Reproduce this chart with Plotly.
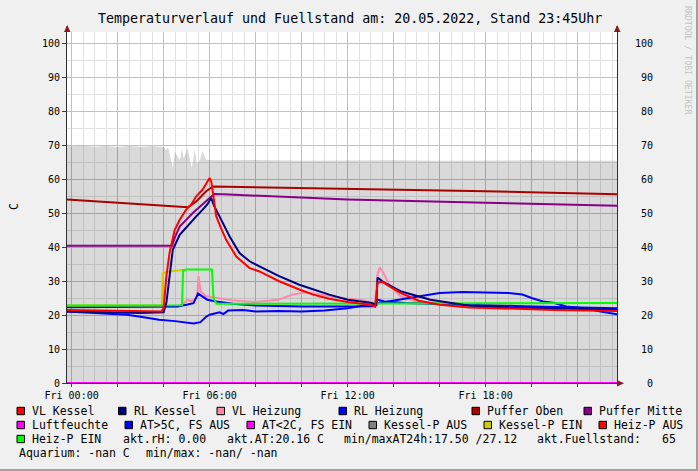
import plotly.graph_objects as go

# ---------------- data (hours since Fri 00:00) ----------------
fs_t = [-0.2, 0.5, 1.0, 1.5, 2.0, 2.5, 3.0, 3.5, 4.0, 4.1, 4.2, 4.3, 4.4, 4.5, 4.6, 4.7, 4.8, 4.87, 4.95,
        5.05, 5.15, 5.22, 5.3, 5.35, 5.45, 5.57, 5.7, 5.8, 5.85, 6.5, 8, 10, 12, 14, 16, 18, 20, 22, 23.72]
fs_v = [69.6, 69.8, 69.5, 69.7, 69.4, 69.7, 69.5, 69.6, 69.4, 68.5, 69.3, 66.0, 63.3, 68.0, 66.5, 65.5, 68.8, 66.0, 67.5,
        69.0, 65.5, 63.3, 66.0, 68.6, 64.5, 65.5, 68.2, 66.0, 65.6, 65.5, 65.6, 65.4, 65.5, 65.5, 65.4, 65.5, 65.5, 65.4, 65.4]

vlk_t = [-0.2, 1, 2, 3, 3.9, 4.0, 4.12, 4.26, 4.48, 4.7, 4.98, 5.2, 5.42, 5.7, 5.93, 6.0, 6.08, 6.14, 6.29, 6.5,
         6.72, 7.16, 7.74, 8.17, 9, 9.9, 10.5, 11.2, 12, 13, 13.2, 13.3, 13.5, 13.8, 14.3, 15.1, 16, 17.3, 19, 21, 23.72]
vlk_v = [21.5, 21.3, 21.1, 21.0, 21.0, 22.0, 31.4, 38.3, 45.0, 48.0, 51.0, 52.5, 54.9, 56.9, 59.8, 60.3, 59.0, 55.9, 49.0, 45.5,
         42.1, 37.2, 33.8, 32.8, 30.0, 27.5, 26.0, 24.8, 23.8, 23.0, 22.5, 29.5, 29.8, 28.5, 26.5, 24.2, 23.0, 22.2, 21.8, 21.5, 21.2]

rlk_t = [-0.2, 1, 2, 3, 4.0, 4.12, 4.26, 4.4, 4.7, 5.13, 5.42, 5.7, 5.9, 6.07, 6.2, 6.43, 6.87, 7.3, 7.74, 8.17,
         9, 9.9, 10.5, 11.2, 12, 13, 13.25, 13.3, 13.6, 14.3, 15.6, 17.3, 19, 21, 23.72]
rlk_v = [21.0, 20.8, 20.6, 20.6, 20.8, 23.6, 31.4, 39.2, 43.6, 47.0, 49.0, 51.0, 52.5, 54.4, 52.0, 49.0, 43.1, 38.2, 35.8, 34.3,
         31.5, 28.9, 27.5, 26.0, 24.5, 23.6, 23.0, 31.0, 29.5, 27.0, 24.5, 22.7, 22.2, 22.0, 21.5]

vlh_t = [-0.2, 4.6, 4.8, 5.06, 5.2, 5.45, 5.52, 5.6, 5.85, 6.29, 7, 8, 9, 9.6, 10.2, 10.8, 11.5, 12.5, 13.2, 13.3,
         13.4, 13.55, 13.8, 14.3, 15, 16, 18, 20, 22, 23.72]
vlh_v = [22.5, 22.5, 23.0, 24.5, 24.0, 25.0, 31.4, 27.0, 25.5, 25.0, 24.3, 23.8, 24.5, 26.0, 26.7, 26.0, 25.2, 24.5, 23.5, 32.0,
         34.0, 32.5, 29.0, 25.5, 24.0, 23.5, 23.0, 22.5, 22.0, 21.2]

rlh_t = [-0.2, 4.6, 5.0, 5.3, 5.5, 5.7, 5.9, 6.3, 7, 8, 10, 12, 13.2, 13.3, 13.6, 14.5, 17, 20, 23.72]
rlh_v = [22.3, 22.5, 23.0, 23.5, 26.3, 25.5, 24.5, 24.0, 23.3, 22.8, 22.5, 22.5, 22.6, 24.5, 24.0, 23.5, 23.0, 22.5, 22.0]

pob_t = [-0.2, 5.06, 5.42, 5.85, 6.14, 12, 18, 23.72]
pob_v = [54.0, 51.7, 53.4, 56.4, 57.8, 57.2, 56.4, 55.5]

pmi_t = [-0.2, 4.37, 4.5, 4.7, 5.27, 5.85, 6.2, 6.6, 12, 18, 23.72]
pmi_v = [40.4, 40.4, 43.0, 46.0, 50.0, 53.4, 55.6, 55.5, 54.0, 53.0, 52.1]

rh_t = [-0.2, 23.72]
rh_v = [0.0, 0.0]

at_t = [-0.2, 0.5, 1.5, 2.4, 3, 3.8, 4.5, 5.0, 5.3, 5.6, 5.85, 6.0, 6.2, 6.43, 6.6, 6.8, 7.45, 8, 9, 10, 11, 12,
        12.7, 13.3, 14, 14.5, 15, 15.5, 16, 17, 18, 19, 19.6, 20, 20.5, 21, 21.5, 22.3, 23, 23.72]
at_v = [21.0, 20.8, 20.5, 20.1, 19.5, 18.6, 18.2, 17.8, 17.5, 17.9, 19.5, 20.1, 20.4, 20.8, 20.3, 21.3, 21.5, 21.0, 21.2, 21.0, 21.3, 22.0,
        22.8, 23.5, 24.3, 24.8, 25.3, 26.0, 26.5, 26.8, 26.7, 26.5, 26.0, 25.0, 24.0, 23.5, 22.5, 22.0, 21.0, 20.2]

kpe_t = [-0.2, 3.92, 3.97, 4.3, 4.85]
kpe_v = [22.8, 22.8, 32.3, 32.9, 33.2]

hpe_t = [-0.2, 4.8, 4.85, 5.0, 6.1, 6.17, 6.3, 12, 23.72]
hpe_v = [22.8, 22.9, 33.2, 33.4, 33.4, 25.0, 23.3, 23.4, 23.5]

y_ticks = [0, 10, 20, 30, 40, 50, 60, 70, 80, 90, 100]
x_major = [0, 2, 4, 6, 8, 10, 12, 14, 16, 18, 20, 22]
x_labels = ["Fri 00:00", "", "", "Fri 06:00", "", "", "Fri 12:00", "", "", "Fri 18:00", "", ""]

# ---------------- geometry helpers ----------------
W, H = 698, 471
L, R, T, B = 67, 617, 32, 383
PW, PH = R - L, B - T
def xp(px): return (px - L) / PW
def yp(py): return (B - py) / PH

MONO = "DejaVu Sans Mono"
fig = go.Figure()

fig.add_trace(go.Scatter(x=fs_t, y=fs_v, mode="lines", line=dict(width=0, color="rgba(0,0,0,0)"),
                         fill="tozeroy", fillcolor="rgba(0,0,0,0.15)", name="Fuellstand", hoverinfo="skip"))

series = [
    ("Puffer Oben", pob_t, pob_v, "#aa0000"),
    ("Puffer Mitte", pmi_t, pmi_v, "#880088"),
    ("Luftfeuchte", rh_t, rh_v, "#ff00ff"),
    ("VL Heizung", vlh_t, vlh_v, "#ff88aa"),
    ("RL Heizung", rlh_t, rlh_v, "#0000ff"),
    ("AT>5C, FS AUS", at_t, at_v, "#0000ff"),
    ("Kessel-P EIN", kpe_t, kpe_v, "#cccc00"),
    ("Heiz-P EIN", hpe_t, hpe_v, "#00ff00"),
    ("RL Kessel", rlk_t, rlk_v, "#000080"),
    ("VL Kessel", vlk_t, vlk_v, "#ff0000"),
]
for name, t, v, c in series:
    fig.add_trace(go.Scatter(x=t, y=v, mode="lines", name=name, line=dict(color=c, width=2)))

shapes = []
arrow_col = "#8b1a1a"
shapes.append(dict(type="line", xref="paper", yref="paper", x0=0, x1=0, y0=1, y1=yp(26), line=dict(color="#404040", width=1)))
shapes.append(dict(type="line", xref="paper", yref="paper", x0=1, x1=1, y0=1, y1=yp(26), line=dict(color="#404040", width=1)))
def tri(pts):
    return "M " + " L ".join(f"{xp(a):.5f},{yp(b):.5f}" for a, b in pts) + " Z"
shapes.append(dict(type="path", xref="paper", yref="paper", path=tri([(64, 32), (70.5, 32), (67.2, 25)]), fillcolor=arrow_col, line=dict(width=0)))
shapes.append(dict(type="path", xref="paper", yref="paper", path=tri([(614, 32), (620.5, 32), (617.2, 25)]), fillcolor=arrow_col, line=dict(width=0)))
shapes.append(dict(type="path", xref="paper", yref="paper", path=tri([(617, 380), (617, 386.5), (624, 383.2)]), fillcolor=arrow_col, line=dict(width=0)))
shapes.append(dict(type="rect", xref="paper", yref="paper", x0=xp(696), x1=xp(698), y0=yp(0), y1=yp(471), fillcolor="#a0a0a0", line=dict(width=0)))
shapes.append(dict(type="rect", xref="paper", yref="paper", x0=xp(0), x1=xp(698), y0=yp(469), y1=yp(471), fillcolor="#a0a0a0", line=dict(width=0)))

annotations = []
annotations.append(dict(text="Temperaturverlauf und Fuellstand am: 20.05.2022, Stand 23:45Uhr", xref="paper", yref="paper",
                        x=xp(350), y=yp(18), xanchor="center", yanchor="middle", showarrow=False,
                        font=dict(family=MONO, size=13.3, color="#000000")))
annotations.append(dict(text="C", xref="paper", yref="paper", x=xp(14), y=yp(207), textangle=-90, showarrow=False,
                        xanchor="center", yanchor="middle", font=dict(family=MONO, size=11.5, color="#000000")))
annotations.append(dict(text="RRDTOOL / TOBI OETIKER", xref="paper", yref="paper", x=xp(688), y=yp(60), textangle=90,
                        showarrow=False, xanchor="center", yanchor="middle", font=dict(family=MONO, size=8.2, color="#c4c4c4")))
for v in y_ticks:
    annotations.append(dict(text=str(v), xref="paper", yref="y", x=xp(654.5), y=v, xanchor="right", yanchor="middle",
                            showarrow=False, font=dict(family=MONO, size=10, color="#000000")))

legend_items = [
    (411, 17, "VL Kessel", "#ff0000"), (411, 118.5, "RL Kessel", "#000080"), (411, 217, "VL Heizung", "#ff88aa"),
    (411, 339, "RL Heizung", "#0000ff"), (411, 472, "Puffer Oben", "#aa0000"), (411, 584, "Puffer Mitte", "#880088"),
    (425, 17, "Luftfeuchte", "#ff00ff"), (425, 125, "AT>5C, FS AUS", "#0000ff"), (425, 247, "AT<2C, FS EIN", "#ff00ff"),
    (425, 369, "Kessel-P AUS", "#808080"), (425, 484, "Kessel-P EIN", "#cccc00"), (425, 599, "Heiz-P AUS", "#ff0000"),
    (439, 17, "Heiz-P EIN", "#00ff00"),
]
for row_y, sx, label, col in legend_items:
    shapes.append(dict(type="rect", xref="paper", yref="paper", x0=xp(sx), x1=xp(sx + 7.5), y0=yp(row_y + 3.7), y1=yp(row_y - 3.7),
                       fillcolor=col, line=dict(color="#000000", width=1)))
    annotations.append(dict(text=label, xref="paper", yref="paper", x=xp(sx + 13), y=yp(row_y), xanchor="left", yanchor="middle",
                            showarrow=False, font=dict(family=MONO, size=11.5, color="#000000")))

info_items = [
    (439, 121, "akt.rH: 0.00"), (439, 225, "akt.AT:20.16 C"), (439, 342, "min/maxAT24h:17.50 /27.12"),
    (439, 535, "akt.Fuellstand:"), (439, 660, "65"),
    (453, 16.5, "Aquarium: -nan C"), (453, 144.3, "min/max: -nan/ -nan"),
]
for row_y, sx, label in info_items:
    annotations.append(dict(text=label, xref="paper", yref="paper", x=xp(sx), y=yp(row_y), xanchor="left", yanchor="middle",
                            showarrow=False, font=dict(family=MONO, size=11.5, color="#000000")))

fig.update_layout(
    width=W, height=H, margin=dict(l=L, r=W - R, t=T, b=H - B, pad=0),
    paper_bgcolor="#f0f0f0", plot_bgcolor="#ffffff", showlegend=False,
    shapes=shapes, annotations=annotations, hovermode=False,
    xaxis=dict(range=[-0.2, -0.2 + PW / 23.0], tickmode="array", tickvals=x_major, ticktext=x_labels,
               showgrid=True, gridcolor="#f4aaaa", gridwidth=1, zeroline=False,
               showline=True, linecolor="#303030", linewidth=1, mirror=False,
               ticks="outside", ticklen=3, tickcolor="#404040",
               tickfont=dict(family=MONO, size=10, color="#000000"), automargin=False, fixedrange=True,
               minor=dict(tick0=0, dtick=0.5, showgrid=True, gridcolor="#e2e2e2", gridwidth=1)),
    yaxis=dict(range=[0, PH / 3.4], tickmode="array", tickvals=y_ticks,
               showgrid=True, gridcolor="#f4aaaa", gridwidth=1, zeroline=False,
               showline=True, linecolor="#303030", linewidth=1, mirror=True,
               ticks="outside", ticklen=4, tickcolor="#404040",
               tickfont=dict(family=MONO, size=10, color="#000000"), automargin=False, fixedrange=True,
               minor=dict(tick0=0, dtick=5, showgrid=True, gridcolor="#e2e2e2", gridwidth=1)),
)

fig.write_html("out.html", config={"displayModeBar": False},
               post_script="document.body.style.margin='0';document.body.style.overflow='hidden';")
